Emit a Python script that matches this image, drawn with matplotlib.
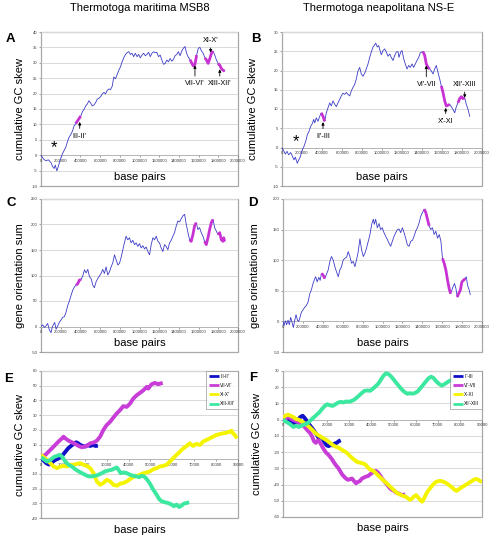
import matplotlib
matplotlib.use("Agg")
import matplotlib.pyplot as plt
import numpy as np

plt.rcParams["font.family"] = ["Liberation Sans", "DejaVu Sans"]

# ---- data (genome position in kb, value) ----
A_SKEW = [(0, 0), (27, -1.3), (50, -1.8), (74, -1.5), (101, -2.4), (118, -3.7), (134, -4.3),
          (145, -3.2), (161, -5.1), (175, -3.7), (195, -1.5), (212, 0), (229, 1.2), (242, 2.0),
          (255, 2.9), (269, 4.5), (286, 5.9), (302, 6.7), (319, 7.8), (336, 9.5), (353, 10.3),
          (376, 11.4), (403, 12.7), (420, 14.1), (437, 14.9), (454, 16.0), (470, 16.6),
          (487, 17.7), (504, 16.9), (521, 16.0), (538, 16.3), (555, 17.1), (571, 18.2),
          (588, 18.5), (605, 19.0), (622, 19.9), (639, 20.4), (655, 19.9), (672, 21.0),
          (689, 21.5), (706, 21.3), (723, 22.4), (739, 25.4), (756, 24.8), (773, 26.2),
          (790, 27.6), (807, 28.7), (823, 30.3), (840, 31.6), (857, 32.7), (874, 33.3),
          (891, 33.6), (908, 32.7), (924, 33.1), (941, 32.0), (958, 33.1), (975, 32.0),
          (992, 32.7), (1008, 31.6), (1025, 32.5), (1042, 33.1), (1059, 32.3), (1076, 32.7),
          (1093, 33.4), (1109, 32.0), (1126, 33.1), (1143, 33.6), (1160, 33.3), (1176, 33.4),
          (1193, 32.0), (1210, 32.5), (1227, 30.9), (1244, 29.5), (1261, 29.8), (1277, 30.9),
          (1294, 30.3), (1311, 31.4), (1328, 30.5), (1345, 31.1), (1361, 32.3), (1378, 32.7),
          (1395, 33.6), (1412, 32.3), (1429, 33.8), (1445, 34.7), (1462, 35.3), (1479, 33.0),
          (1496, 31.8), (1513, 31.0), (1529, 30.0), (1546, 29.0), (1563, 29.5), (1580, 32.5),
          (1597, 34.7), (1613, 35.0), (1630, 33.8), (1647, 33.1), (1664, 31.6), (1680, 30.9),
          (1697, 29.8), (1714, 31.4), (1731, 33.1), (1747, 33.8), (1764, 32.5), (1781, 30.9),
          (1798, 29.8), (1815, 29.2), (1832, 28.1), (1848, 27.6), (1865, 27.3)]

B_SKEW = [(0, 0), (20, -1.0), (33, -1.7), (50, -1.0), (67, -1.9), (87, -1.3), (103, -2.2),
          (120, -3.2), (133, -2.5), (153, -4.1), (170, -3.1), (183, -2.4), (200, -0.8),
          (220, 0.3), (237, 1.6), (253, 3.3), (270, 4.2), (287, 5.5), (303, 6.2), (317, 7.3),
          (327, 6.4), (343, 7.7), (360, 6.8), (377, 8.1), (393, 9.0), (410, 8.1), (427, 6.8),
          (443, 9.0), (460, 10.3), (477, 11.6), (493, 10.8), (510, 12.1), (527, 11.2),
          (543, 10.6), (560, 11.6), (577, 12.5), (593, 13.4), (610, 14.1), (627, 13.8),
          (643, 14.3), (660, 13.8), (677, 13.4), (693, 14.7), (710, 15.6), (727, 16.4),
          (743, 17.8), (760, 19.9), (777, 20.8), (793, 19.1), (810, 18.5), (827, 19.3),
          (843, 20.4), (860, 21.7), (877, 23.4), (893, 24.8), (910, 26.1), (927, 26.7),
          (937, 27.1), (953, 26.1), (967, 26.5), (980, 25.2), (993, 24.1), (1010, 25.2),
          (1027, 25.6), (1043, 24.8), (1060, 23.7), (1077, 24.3), (1093, 23.4), (1110, 22.6),
          (1127, 23.9), (1143, 24.8), (1160, 24.9), (1170, 23.4), (1187, 24.8), (1200, 25.2),
          (1217, 23.0), (1233, 21.7), (1250, 20.4), (1267, 21.3), (1283, 20.8), (1300, 21.7),
          (1317, 20.8), (1333, 21.7), (1350, 22.6), (1367, 23.4), (1383, 24.6), (1400, 24.8),
          (1410, 24.9), (1427, 23.9), (1443, 21.7), (1460, 20.8), (1477, 20.4), (1493, 19.9),
          (1510, 19.1), (1527, 20.4), (1543, 21.3), (1560, 19.5), (1577, 17.8), (1593, 16.0),
          (1610, 14.3), (1627, 12.1), (1643, 10.8), (1660, 11.0), (1677, 11.2), (1693, 10.6),
          (1710, 9.9), (1727, 9.0), (1743, 10.6), (1760, 11.6), (1777, 12.7), (1793, 13.2),
          (1810, 12.7), (1827, 12.9), (1843, 11.2), (1860, 9.9), (1877, 8.1)]

C_GENES = [(0, 0), (17, 3.3), (34, -2), (51, 1.3), (68, 6), (85, -7), (102, -12), (112, -3),
           (125, 3.3), (139, 8), (153, -5.3), (170, 1.3), (186, 8), (203, 12.6), (220, 17.9),
           (237, 19.2), (254, 27.8), (271, 41), (288, 50), (305, 61), (322, 71), (339, 77.6),
           (356, 81), (373, 84), (390, 91), (407, 92), (424, 99), (441, 111), (458, 105),
           (475, 112), (492, 97.5), (509, 94), (526, 81), (542, 76), (559, 87.5), (576, 94),
           (593, 99), (610, 104), (627, 112), (644, 104), (661, 117), (678, 101), (695, 107),
           (712, 117), (729, 125), (746, 140.6), (763, 130.6), (780, 120.7), (797, 124),
           (814, 136), (831, 150.5), (848, 165), (864, 177), (881, 170), (898, 174), (915, 164),
           (932, 169), (949, 160.5), (966, 164), (983, 157), (1000, 162.5), (1017, 154),
           (1034, 158.5), (1051, 152), (1068, 156), (1085, 147), (1102, 140.6), (1119, 160.5),
           (1136, 174), (1153, 170), (1170, 177), (1187, 167), (1203, 164), (1220, 154),
           (1237, 147), (1254, 160.5), (1271, 157), (1288, 150.5), (1305, 164), (1322, 169),
           (1339, 177), (1356, 184), (1373, 197), (1390, 207), (1407, 205), (1424, 211.5),
           (1441, 217), (1458, 220), (1475, 200), (1492, 184), (1509, 170), (1525, 167),
           (1542, 180), (1559, 197), (1576, 203.6), (1593, 190), (1610, 194), (1627, 184),
           (1644, 177), (1661, 167), (1678, 160.5), (1695, 174), (1712, 190), (1729, 203.6),
           (1746, 210), (1763, 193.6), (1780, 187), (1797, 180), (1814, 184), (1831, 170),
           (1847, 167), (1855, 174), (1864, 167)]

D_GENES = [(0, 0), (10, -7), (24, 1), (37, -5.5), (50, 2), (64, -5.5), (77, 6.6), (91, -1.7),
           (104, -10), (118, 2), (131, 11), (145, 2), (158, 0), (171, 6.6), (185, 15), (202, 19),
           (218, 23), (235, 26), (252, 31.5), (269, 45), (286, 52), (302, 62), (319, 70),
           (329, 73), (343, 64.6), (360, 72), (373, 67), (387, 78.5), (403, 75.7), (420, 70),
           (437, 77), (454, 84), (471, 98), (487, 106), (504, 100.5), (521, 89.5), (538, 81),
           (555, 73), (571, 84), (588, 89.5), (605, 100.5), (622, 103), (639, 105), (655, 114),
           (672, 106), (689, 95), (706, 98), (723, 89.5), (739, 100.5), (756, 114), (773, 135),
           (790, 117), (807, 106), (824, 111.6), (840, 120), (857, 131), (874, 142),
           (891, 158.6), (908, 167), (918, 158.6), (931, 167), (948, 153), (965, 160),
           (981, 150), (998, 153), (1015, 145), (1032, 139), (1049, 133.7), (1065, 128),
           (1082, 122.7), (1099, 131), (1116, 139), (1133, 145), (1149, 150), (1166, 151),
           (1183, 145), (1200, 153), (1217, 145), (1233, 136), (1250, 125), (1267, 122.7),
           (1284, 131), (1301, 132.6), (1317, 139), (1334, 147.5), (1351, 153), (1368, 161),
           (1385, 172), (1402, 178), (1418, 183.4), (1435, 178), (1452, 167), (1469, 156),
           (1486, 150), (1502, 153), (1519, 142), (1536, 147.5), (1553, 136), (1570, 142),
           (1587, 131), (1603, 103), (1620, 95), (1637, 84), (1654, 67), (1670, 53.6),
           (1684, 45.3), (1697, 51), (1711, 57.5), (1724, 62), (1738, 53.6), (1751, 39.8),
           (1765, 45.3), (1782, 51), (1798, 64.6), (1815, 67.4), (1832, 70), (1842, 73),
           (1855, 59), (1872, 51), (1882, 44)]

# inverted regions (kb) shown in magenta
MARITIMA_REGIONS = [(345, 410), (1500, 1590), (1650, 1760), (1790, 1870)]
NEAPOLITANA_REGIONS = [(385, 435), (1410, 1480), (1590, 1690), (1745, 1835)]

# arrow labels: (text, x kb, text y, tip y)
A_LABELS = [("III-II'", 393, 6.2, 10.8), ("VII-VI'", 1563, 23.2, 29.2),
            ("XI-X'", 1722, 37.3, 33.3), ("XIII-XII'", 1815, 23.2, 27.9)]
B_LABELS = [("II'-III", 410, 2.9, 6.6), ("VI'-VII", 1443, 16.4, 21.3),
            ("X'-XI", 1637, 6.8, 10.3), ("XII'-XIII", 1827, 16.4, 12.9)]

# panel E / F: cumulative GC skew of the single regions (bp, skew)
E_NAMES = ["III-II'", "VII-VI'", "XI-X'", "XIII-XII'"]
E_III = [(0, 1.4), (1200, -0.9), (2400, -2.7), (3600, -3.6), (4600, -3.2), (5500, -1.6),
         (6500, -0.5), (7600, 0.2), (8800, 1.4), (10000, 2.9), (11200, 5.2), (12400, 7.4),
         (13700, 9.0), (14900, 10.4), (16100, 11.5), (17000, 10.8), (17900, 9.7), (19100, 9.0),
         (20200, 8.6), (21300, 9.5), (22500, 9.0), (23700, 9.7), (24900, 9.0), (26000, 9.2)]
E_VII = [(0, 1.8), (2000, 2.9), (3500, 5.2), (5000, 7.4), (6500, 9.7), (8000, 12.0),
         (9600, 14.2), (10300, 15.3), (11100, 14.2), (12600, 12.6), (14100, 11.5),
         (15600, 10.4), (17200, 9.0), (18700, 8.1), (19700, 8.6), (20900, 9.0), (22500, 10.8),
         (24000, 11.3), (25500, 12.6), (27000, 15.3), (28500, 19.9), (30000, 23.2),
         (31600, 25.5), (33100, 28.4), (34600, 31.1), (36100, 33.4), (37600, 36.1),
         (39200, 35.6), (40700, 37.9), (42200, 41.3), (43700, 43.5), (45200, 45.1),
         (46800, 46.9), (48300, 49.2), (49000, 48.0), (50500, 51.0), (52100, 51.9),
         (52800, 51.4), (53600, 51.0), (54300, 51.4), (55600, 51.9)]
E_XI = [(0, 2.9), (1200, 1.4), (2700, -0.5), (4300, -2.7), (5800, -5.0), (7300, -6.1),
        (8800, -5.0), (10300, -4.5), (11800, -5.0), (13400, -3.8), (14900, -3.8),
        (16400, -3.2), (17900, -2.7), (19400, -3.8), (20900, -4.5), (22500, -6.1),
        (24000, -9.5), (25500, -15.1), (27000, -17.4), (28500, -16.2), (30000, -14.0),
        (31600, -15.1), (33100, -17.4), (34600, -18.0), (36100, -16.7), (37600, -16.2),
        (39200, -15.1), (40700, -13.5), (42200, -12.2), (43700, -11.3), (45200, -10.6),
        (46800, -9.5), (48300, -9.0), (49800, -8.3), (51300, -6.8), (52800, -6.1),
        (54300, -5.0), (55900, -4.5), (57400, -3.8), (58900, -1.6), (60400, 0.7),
        (61900, 2.9), (63500, 5.2), (65000, 7.4), (66500, 9.0), (68000, 10.8), (69500, 9.0),
        (71000, 10.4), (72600, 9.7), (74100, 12.0), (75600, 13.1), (77100, 14.2),
        (78600, 15.3), (80200, 16.5), (81700, 17.1), (83200, 17.6), (84700, 18.0),
        (86200, 18.7), (87000, 19.4), (87700, 17.6), (88500, 16.5), (89600, 14.2)]
E_XIII = [(0, 1.4), (1200, 0), (2700, -1.6), (4300, -0.5), (5800, 1.4), (7300, 2.3),
          (8500, 2.9), (9600, 1.8), (11100, -1.6), (12600, -3.8), (14100, -5.0), (15600, -6.8),
          (17200, -8.3), (18700, -9.5), (20200, -10.6), (21700, -11.7), (23200, -11.7),
          (24700, -11.3), (26300, -10.6), (27800, -9.5), (29300, -8.3), (30800, -7.7),
          (32300, -7.2), (33900, -6.1), (34600, -5.6), (35400, -7.2), (36400, -9.5),
          (37600, -9.0), (39200, -9.5), (40700, -10.6), (42200, -11.3), (43700, -11.7),
          (44900, -12.2), (46000, -11.3), (47100, -11.7), (48300, -13.5), (49800, -16.7),
          (51300, -20.8), (52800, -24.1), (54000, -27.1), (55100, -28.6), (56600, -29.3),
          (58100, -29.8), (59700, -30.9), (60700, -32.0), (61900, -30.9), (63100, -32.5),
          (64200, -31.6), (65300, -30.2), (66500, -29.8), (67700, -29.3)]

F_NAMES = ["II'-III", "VI'-VII", "X'-XI", "XII'-XIII"]
F_II = [(0, 0), (1000, 1.0), (2300, 0.4), (3300, -1.0), (4400, -2.0), (5600, -2.4), (6800, 0),
        (7800, 1.6), (8900, 2.4), (9800, 1.0), (10900, -1.0), (11900, -3.1), (13100, -5.1),
        (14200, -7.1), (15200, -9.2), (16100, -11.2), (17000, -10.6), (17900, -11.8),
        (18900, -14.3), (19800, -15.9), (20700, -16.3), (21600, -15.3), (22500, -15.9),
        (23400, -14.7), (24300, -14.3), (25200, -13.3), (26100, -12.7)]
F_VI = [(0, 0), (1400, 1.0), (2600, 1.6), (3800, 0.4), (5000, -0.4), (6200, -1.0), (7400, -2.0),
        (8600, -3.1), (9800, -4.5), (11000, -6.5), (12200, -8.2), (13100, -10.2), (14000, -13.3),
        (14900, -14.3), (15800, -12.7), (16700, -13.9), (17600, -16.3), (18500, -18.4),
        (19500, -20.4), (20400, -21.4), (21300, -22.9), (22200, -24.5), (23100, -26.5),
        (24000, -28.2), (24900, -29.6), (25800, -31.6), (26700, -33.7), (27600, -35.1),
        (28500, -36.3), (29400, -37.1), (30300, -36.7), (31200, -36.3), (32100, -37.8),
        (33000, -39.2), (33900, -38.4), (34800, -37.8), (35700, -36.3), (36600, -35.7),
        (37500, -35.1), (38500, -34.7), (39400, -33.7), (40300, -32.7), (41200, -32.2),
        (42100, -31.6), (43000, -32.7), (43900, -34.3), (44800, -36.3), (45700, -37.8),
        (46600, -39.2), (47500, -40.8), (48400, -42.4), (49300, -43.3), (50200, -43.9),
        (51100, -44.9), (52000, -45.3), (52900, -45.9), (53800, -46.5), (55300, -46.1)]
F_X = [(0, 1.0), (1000, 2.4), (2300, 3.1), (3500, 2.4), (4700, 1.6), (5900, 0.4), (7100, 0),
       (8300, -1.0), (9500, -2.0), (10700, -3.1), (11900, -4.5), (13100, -6.1), (14300, -7.8),
       (15500, -9.2), (16700, -10.2), (17900, -11.2), (19200, -12.2), (20400, -13.3),
       (21600, -14.7), (22800, -15.9), (24000, -16.7), (25200, -17.3), (26400, -18.4),
       (27600, -19.4), (28800, -20.4), (30000, -22.0), (31200, -23.5), (32400, -24.9),
       (33600, -26.1), (34800, -26.5), (36000, -26.9), (37200, -27.6), (38500, -29.6),
       (39700, -31.0), (40900, -31.6), (42100, -33.1), (43300, -34.7), (44500, -36.3),
       (45700, -37.8), (46900, -39.2), (48100, -40.8), (49300, -42.4), (50500, -43.9),
       (51700, -45.3), (52900, -46.1), (54100, -46.9), (55300, -47.3), (56600, -48.6),
       (57500, -49.4), (58400, -48.6), (59300, -47.3), (60200, -46.5), (61100, -47.9),
       (62000, -49.4), (62900, -50.6), (63800, -48.6), (64700, -45.9), (65600, -43.9),
       (66800, -41.8), (68000, -39.8), (69200, -38.4), (70400, -37.8), (71600, -37.8),
       (72800, -38.4), (74000, -39.2), (75200, -40.4), (76500, -41.8), (77700, -43.3),
       (78600, -43.9), (79500, -42.9), (80700, -41.8), (81900, -40.8), (83100, -39.8),
       (84300, -38.8), (85500, -37.8), (86700, -36.7), (87900, -36.7), (89100, -37.8),
       (90000, -38.4)]
F_XII = [(0, 0), (1000, -1.0), (2300, -2.0), (3500, -3.1), (4700, -4.5), (5900, -3.7),
         (7100, -4.5), (8300, -3.7), (9500, -3.1), (10700, -2.4), (11600, -1.6), (12800, 0),
         (14000, 1.5), (15200, 3.0), (16400, 4.5), (17600, 6.5), (18900, 8.5), (20100, 9.5),
         (21300, 8.8), (22500, 8.5), (23700, 9.5), (24900, 10.5), (26100, 11.0), (27300, 10.6),
         (28500, 11.2), (29700, 11.0), (30900, 11.5), (32100, 12.2), (33300, 13.5),
         (34500, 15.0), (35700, 16.5), (36900, 17.8), (38200, 18.0), (39400, 17.8),
         (40600, 19.0), (41800, 20.5), (43000, 22.0), (44200, 24.5), (45400, 27.0),
         (46600, 28.6), (47800, 28.0), (49000, 26.5), (50200, 24.5), (51400, 22.4),
         (52600, 20.4), (53800, 18.5), (55000, 17.0), (56200, 16.0), (57400, 16.3),
         (58600, 16.0), (59800, 16.5), (61000, 17.5), (62200, 19.5), (63400, 21.5),
         (64600, 23.5), (65800, 25.5), (67000, 26.5), (68200, 25.5), (69400, 23.5),
         (70600, 22.0), (71800, 21.0), (73000, 21.8), (74200, 23.0), (75400, 24.0),
         (76600, 24.5)]

REGION_COLORS = ["#1010c8", "#c83cd8", "#f4f400", "#3ce8a0"]
LINE_BLUE = "#3c3cc8"
MAGENTA = "#c832d2"
GRID = "#d9d9d9"
BORDER = "#a8a8a8"

W, H = 492, 538


def px_axes(fig, left, top, right, bottom):
    return fig.add_axes([left / W, 1 - bottom / H, (right - left) / W, (bottom - top) / H])


def style(ax, ylo, yhi, ystep, xmax, xstep, ylabel, ylab_x, xlab_y):
    ax.set_xlim(0, xmax)
    ax.set_ylim(ylo, yhi)
    yt = np.arange(ylo, yhi + ystep / 2, ystep)
    xt = np.arange(0, xmax + xstep / 2, xstep)
    ax.set_yticks(yt)
    ax.set_yticklabels([f"{int(v)}" for v in yt])
    ax.set_xticks(xt)
    ax.set_xticklabels([f"{int(v)}" for v in xt])
    ax.yaxis.grid(True, color=GRID, lw=0.7)
    ax.set_axisbelow(True)
    for s in ["top", "right", "left"]:
        ax.spines[s].set_visible(False)
    ax.spines["bottom"].set_position(("data", 0))
    ax.spines["bottom"].set_color("#b0b0b0")
    ax.spines["bottom"].set_linewidth(0.6)
    ax.patch.set_edgecolor(BORDER)
    ax.patch.set_linewidth(0.9)
    ax.tick_params(axis="both", labelsize=3, length=1.2, width=0.4, pad=1.5,
                   colors="#555555", labelcolor="#333333")
    ax.set_ylabel(ylabel, fontsize=8)
    ax.yaxis.set_label_coords(ylab_x, 0.5)
    ax.text(0.5, xlab_y, "base pairs", transform=ax.transAxes, ha="center", va="center",
            fontsize=8)


def genome_panel(ax, curve, regions):
    kb, val = np.array(curve).T
    bp = kb * 1000
    ax.plot(bp, val, color=LINE_BLUE, lw=0.6, zorder=3)
    for lo, hi in regions:
        m = (kb >= lo) & (kb <= hi)
        ax.plot(bp[m], val[m], color=MAGENTA, lw=2.0, zorder=4, solid_capstyle="butt")


def arrow_labels(ax, labels):
    for text, xkb, ty, tipy in labels:
        ax.annotate(text, xy=(xkb * 1000, tipy), xytext=(xkb * 1000, ty), ha="center",
                    va="center", fontsize=5.3, zorder=6,
                    arrowprops=dict(arrowstyle="-|>", lw=0.6, color="black",
                                    mutation_scale=4, shrinkA=1, shrinkB=0))


def region_panel(ax, curves, names):
    for curve, name, color in zip(curves, names, REGION_COLORS):
        x, y = np.array(curve).T
        ax.plot(x, y, color=color, lw=2.8, label=name, zorder=3, solid_capstyle="butt")
    leg = ax.legend(loc="upper right", fontsize=3.3, handlelength=2.2, handletextpad=0.3,
                    borderaxespad=0, borderpad=0.6, labelspacing=0.9, frameon=True,
                    fancybox=False)
    leg.get_frame().set_edgecolor("#808080")
    leg.get_frame().set_linewidth(0.5)
    for line in leg.get_lines():
        line.set_linewidth(2.0)


fig = plt.figure(figsize=(W / 100, H / 100), dpi=100)

fig.text(140 / W, 1 - 8 / H, "Thermotoga maritima MSB8", ha="center", va="center", fontsize=8)
fig.text(379 / W, 1 - 8 / H, "Thermotoga neapolitana NS-E", ha="center", va="center", fontsize=8)

for letter, x, y in [("A", 10, 39), ("B", 256, 39), ("C", 11, 203), ("D", 253, 203),
                     ("E", 9, 379), ("F", 253, 378)]:
    fig.text(x / W, 1 - y / H, letter, ha="center", va="center", fontsize=9.5,
             fontweight="bold")

axA = px_axes(fig, 41, 32, 238, 186)
style(axA, -10, 40, 5, 2000000, 200000, "cumulative GC skew", -16 / 197, 0.058)
genome_panel(axA, A_SKEW, MARITIMA_REGIONS)
arrow_labels(axA, A_LABELS)
axA.text(132000, 2.4, "*", fontsize=12, ha="center", va="center")

axB = px_axes(fig, 282, 32, 482, 186)
style(axB, -10, 30, 5, 2000000, 200000, "cumulative GC skew", -24 / 200, 0.058)
genome_panel(axB, B_SKEW, NEAPOLITANA_REGIONS)
arrow_labels(axB, B_LABELS)
axB.text(143000, 1.6, "*", fontsize=12, ha="center", va="center")

axC = px_axes(fig, 41, 199, 238, 352)
style(axC, -50, 250, 50, 2000000, 200000, "gene orientation sum", -16 / 197, 0.059)
genome_panel(axC, C_GENES, MARITIMA_REGIONS)

axD = px_axes(fig, 283, 199, 482, 352)
style(axD, -50, 200, 50, 2000000, 200000, "gene orientation sum", -23 / 199, 0.059)
genome_panel(axD, D_GENES, NEAPOLITANA_REGIONS)

axE = px_axes(fig, 41, 371, 238, 518)
style(axE, -40, 60, 10, 90000, 10000, "cumulative GC skew", -16 / 197, -0.082)
region_panel(axE, [E_III, E_VII, E_XI, E_XIII], E_NAMES)

axF = px_axes(fig, 283, 371, 482, 517)
style(axF, -60, 30, 10, 90000, 10000, "cumulative GC skew", -21 / 199, -0.075)
region_panel(axF, [F_II, F_VI, F_X, F_XII], F_NAMES)

fig.savefig("out.png", dpi=100)
